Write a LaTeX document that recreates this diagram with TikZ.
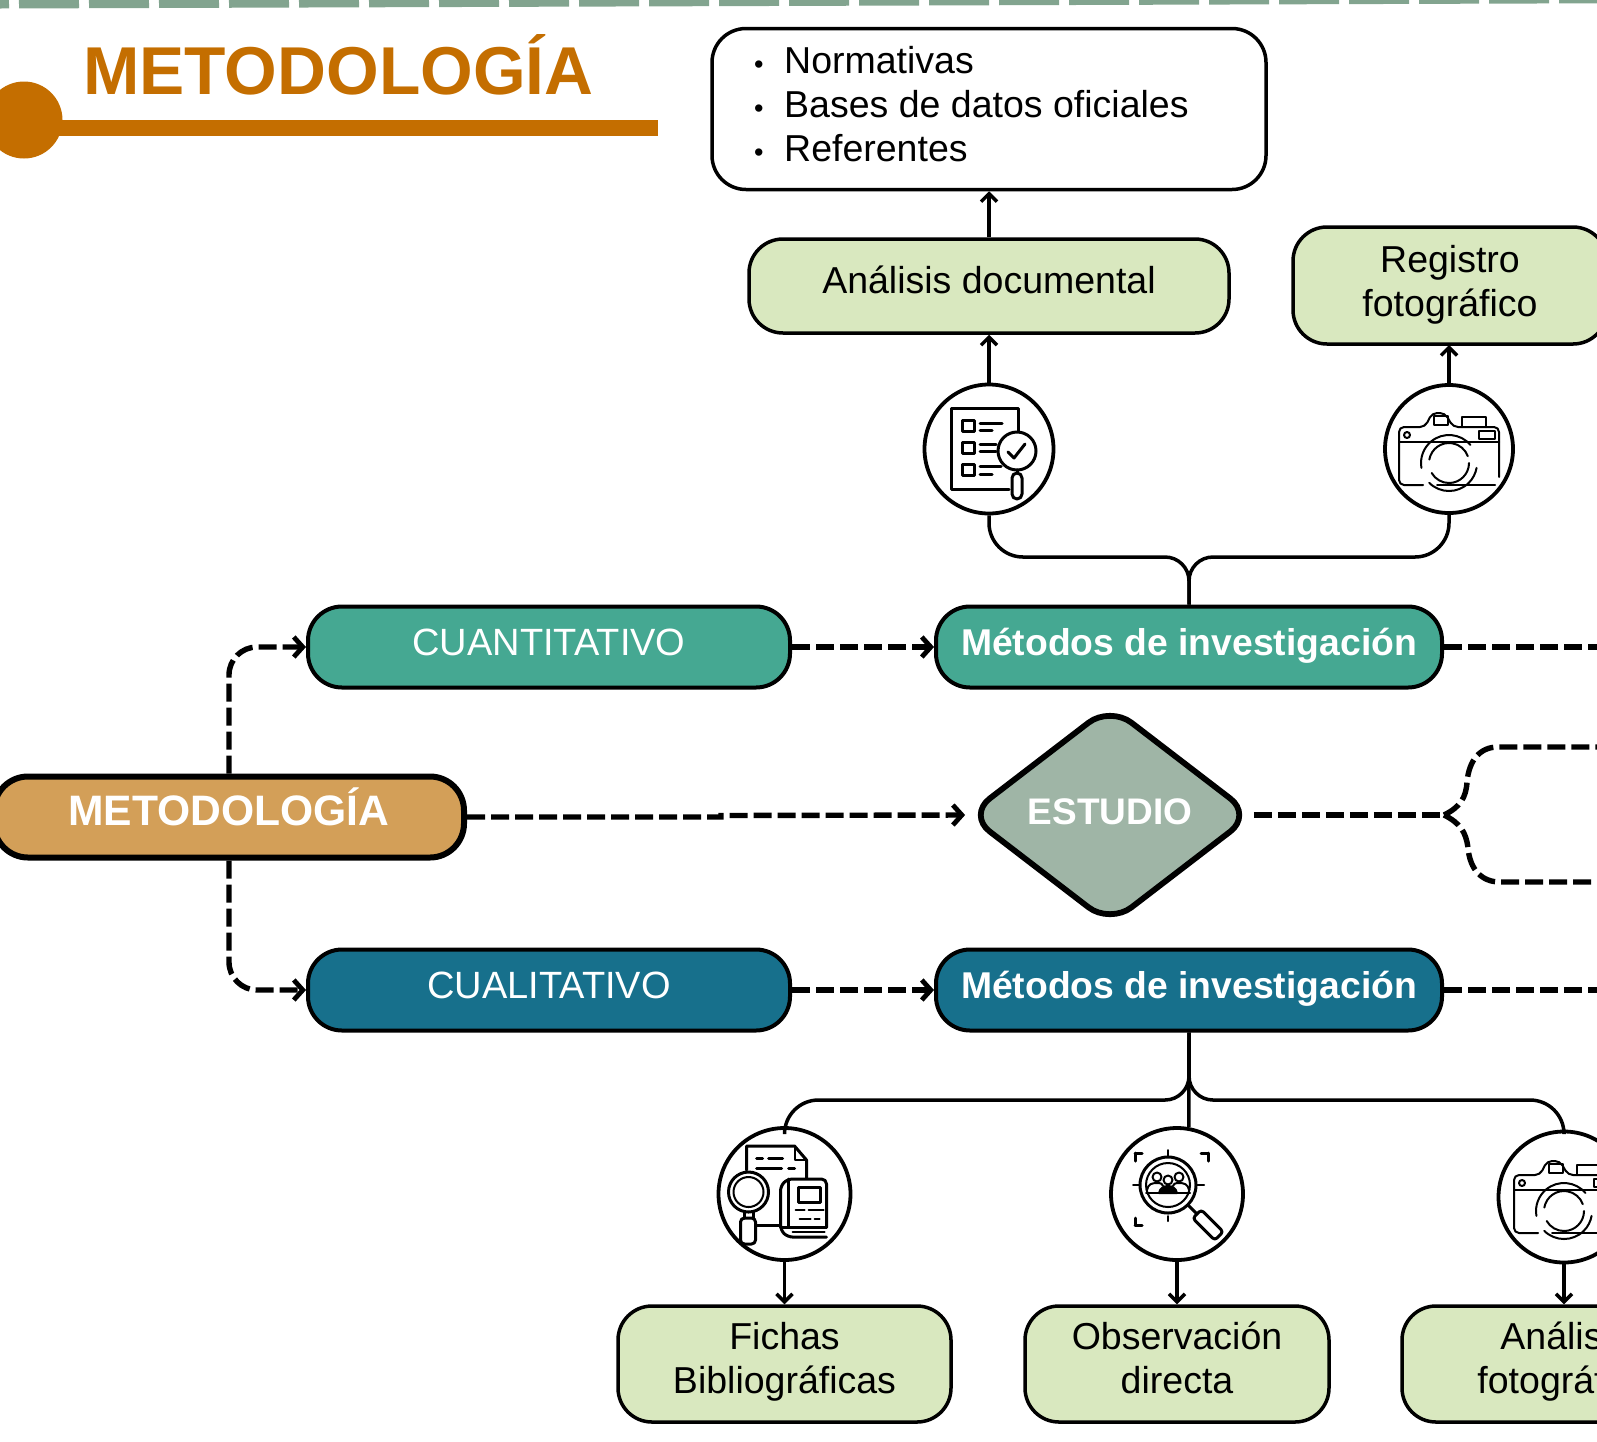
\documentclass[tikz,border=0pt]{standalone}
\usepackage{fontspec}
\setmainfont{Liberation Sans}
\usetikzlibrary{arrows.meta,shapes.geometric,calc}
\definecolor{topline}{HTML}{82A48F}
\definecolor{ochre}{HTML}{C46E00}
\definecolor{lightg}{HTML}{D9E8BF}
\definecolor{teala}{HTML}{45A892}
\definecolor{tealb}{HTML}{17708C}
\definecolor{sand}{HTML}{D39F58}
\definecolor{sage}{HTML}{9FB5A6}
\newcommand{\twolines}[2]{\rule{0pt}{26pt}#1\\#2\rule[-9pt]{0pt}{9pt}}
\newcommand{\twolinesup}[2]{\rule{0pt}{26pt}#1\\#2\rule[-13pt]{0pt}{13pt}}
\tikzset{
  lab/.style={font=\fontsize{37.5}{44}\selectfont},
  box/.style={draw=black,rounded corners=34pt,line width=3.5pt,lab,inner sep=0pt,align=center},
  lightbox/.style={box,fill=lightg,text=black},
  colbox/.style={box,line width=4pt,minimum height=81pt,minimum width=482pt,text height=26pt,text depth=9pt,text=white},
  iconring/.style={draw=black,fill=white,circle,line width=3.8pt,minimum size=131pt,inner sep=0pt},
  conn/.style={draw=black,line width=3.5pt,rounded corners=24pt},
  arr/.style={draw=black,line width=3.5pt,-{Straight Barb[length=8pt,width=16pt,line width=3.5pt]}},
  dashc/.style={draw=black,line width=5.4pt,dash pattern=on 18pt off 6pt},
  dasharr/.style={dashc,-{Straight Barb[length=9pt,width=20pt,line width=4.8pt]}},
  ic/.style={draw=black,line width=2pt,line cap=round,line join=round},
  icb/.style={draw=black,line width=3pt,line cap=round,line join=round},
}
\newcommand{\camicon}[1]{%
\begin{scope}[shift={(#1)}]
  \draw[ic] (-26,36) -- (-44,36) [rounded corners=5pt] -- (-50,36) -- (-50,-22) -- (-24,-22) -- (-17,-36) -- (-4,-36) -- (4,-22) -- (50,-22) -- (50,28);
  \draw[ic] (-12,36) -- (46,36);
  \draw[ic] (-50,-7) -- (50,-7);
  \draw[ic] (-15,-33) rectangle (-1,-24);
  \draw[ic] (13,-22) -- (13,-32) -- (37,-32) -- (37,-22);
  \draw[ic] (30,-18) rectangle (46,-10);
  \draw[ic] (-42,-14) circle[radius=3];
  % lens: arcs round (0,14), angles negative because y runs downwards
  \draw[ic] (0,14) ++(-40:28) arc[start angle=-40,end angle=-190,radius=28];
  \draw[ic] (0,14) ++(135:28) arc[start angle=135,end angle=10,radius=28];
  \draw[ic] (0,14) ++(-170:20) arc[start angle=-170,end angle=-20,radius=20];
  \draw[ic] (0,14) ++(0:20) arc[start angle=0,end angle=150,radius=20];
\end{scope}}
\begin{document}
\begin{tikzpicture}[x=1pt,y=-1pt]
\useasboundingbox (0,0) rectangle (1597,1441);
% header
\draw[topline,line width=9pt,dash pattern=on 60pt off 10pt,dash phase=51pt] (0,4) -- (1597,-1.2);
\fill[ochre] (24,120) circle[radius=38.5];
\fill[ochre] (40,120) rectangle (658,136);
\node[text=ochre,font=\fontsize{67.7}{70}\selectfont\bfseries,inner sep=0pt,anchor=base west] (title) at (83,94.5) {METODOLOGÍA};
% upper branch
\node[box,fill=white,minimum width=554pt,minimum height=161pt] (refs) at (989,109) {};
\node[lab,align=left,anchor=west,inner sep=0pt] (reflist) at (754,104) {%
\makebox[30pt][l]{\fontsize{27}{27}\selectfont•}Normativas\\
\makebox[30pt][l]{\fontsize{27}{27}\selectfont•}Bases de datos oficiales\\
\makebox[30pt][l]{\fontsize{27}{27}\selectfont•}Referentes};
\node[lightbox,minimum width=480pt,minimum height=94pt,text height=25pt,text depth=10pt] (doc) at (989,286) {Análisis documental};
\node[lightbox,minimum width=314pt,minimum height=117pt] (foto) at (1450,285.5) {\twolines{Registro}{fotográfico}};
\node[iconring,minimum size=129pt] (cA) at (989,449) {};
\node[iconring,minimum size=128pt] (cB) at (1449,449) {};
\node[colbox,fill=teala,minimum width=482pt,font=\fontsize{38}{44}\selectfont] (cuan) at (549,647) {CUANTITATIVO};
\node[colbox,fill=teala,minimum width=506pt,font=\fontsize{37.3}{44}\selectfont\bfseries] (metA) at (1189,647) {Métodos de investigación};
\draw[arr] (doc.north) -- (refs.south);
\draw[arr] (cA.north) -- (doc.south);
\draw[arr] (cB.north) -- (1449,345);
\draw[conn] (metA.north) -- (metA.north |- 0,557) [rounded corners=34pt] -| (cA.south);
\draw[conn] (metA.north) -- (metA.north |- 0,557) [rounded corners=34pt] -| (cB.south);
% middle
\node[box,line width=6pt,fill=sand,text=white,minimum width=470pt,minimum height=81pt,text height=28pt,text depth=12pt,font=\fontsize{42.6}{46}\selectfont\bfseries] (meto) at (229,817) {METODOLOGÍA};
\node[shape=diamond,draw=black,line width=5.8pt,fill=sage,rounded corners=27pt,minimum width=286pt,minimum height=220pt,inner sep=0pt,text=white,font=\fontsize{37}{44}\selectfont\bfseries] (est) at (1110,815) {\raisebox{6pt}{ESTUDIO}};
\node[colbox,fill=tealb,minimum width=482pt,font=\fontsize{38}{44}\selectfont] (cual) at (549,990) {CUALITATIVO};
\node[colbox,fill=tealb,minimum width=506pt,font=\fontsize{37.3}{44}\selectfont\bfseries] (metB) at (1189,990) {Métodos de investigación};
\coordinate (endA) at (1620,647);
\coordinate (endB) at (1620,990);
\coordinate (endC) at (1620,747);
\coordinate (endD) at (1620,882);
\coordinate (fork) at (1444,815);
\draw[dasharr,rounded corners=28pt] (meto.north) |- (cuan.west);
\draw[dasharr,rounded corners=28pt] (meto.south) |- (cual.west);
\draw[dasharr] (cuan.east) -- (metA.west);
\draw[dasharr] (cual.east) -- (metB.west);
\draw[dashc] (metA.east) -- (endA);
\draw[dashc] (metB.east) -- (endB);
\draw[dasharr,shorten >=-1pt] (meto.east) -- ++(254,0) -- ++(0,-1.5) -- (est.west);
\draw[dashc,shorten <=-2pt] (est.east) -- (fork);
\draw[dashc] (fork) .. controls (1460,807) and (1466,798) .. (1467,782) .. controls (1469,760) and (1480,747) .. (1498,747) -- (endC);
\draw[dashc] (fork) .. controls (1460,823) and (1466,832) .. (1468,848) .. controls (1470,870) and (1482,882) .. (1500,882) -- (endD);
% lower
\node[iconring,minimum size=132pt] (cC) at (784.5,1194) {};
\node[iconring,minimum size=132pt] (cD) at (1177,1194) {};
\node[iconring] (cE) at (1564,1197) {};
\node[lightbox,minimum width=333pt,minimum height=116pt] (fichas) at (784.5,1364) {\twolinesup{Fichas}{Bibliográficas}};
\node[lightbox,minimum width=304pt,minimum height=116pt] (obs) at (1177,1364) {\twolinesup{Observación}{directa}};
\node[lightbox,minimum width=326pt,minimum height=116pt] (ana) at (1565,1364) {\twolinesup{Análisis}{fotográfico}};
\draw[conn] (metB.south) -- (metB.south |- 0,1100) [rounded corners=34pt] -| (cC.north);
\draw[conn] (metB.south) -- (metB.south |- 0,1100) [rounded corners=34pt] -| (cE.north);
\draw[conn] (metB.south) -- (cD.80);
\draw[arr] (cC.south) -- (fichas.north);
\draw[arr] (cD.south) -- (obs.north);
\draw[arr] (cE.south) -- (cE.south |- ana.north);
% checklist icon
\begin{scope}[shift={(cA.center)}]
  \draw[icb] (29,-12) -- (29,-41) -- (-38,-41) -- (-38,40) -- (20,40);
  \draw[icb] (-27,-29) rectangle (-15,-18);
  \draw[icb] (-27,-7) rectangle (-15,4);
  \draw[icb] (-27,15) rectangle (-15,26);
  \draw[icb] (-9,-26) -- (13,-26);
  \draw[icb] (-9,-19) -- (3,-19);
  \draw[icb] (-9,-5) -- (7,-5);
  \draw[icb] (-9,2) -- (7,2);
  \draw[icb] (-9,17) -- (12,17);
  \draw[icb] (-9,25) -- (3,25);
  \draw[icb,fill=white] (28,2) circle[radius=19];
  \draw[icb] (19,3) -- (25,9) -- (36,-5);
  \draw[icb] (28,21) -- (28,24);
  \draw[icb,rounded corners=5pt] (23,24) rectangle (33,50);
\end{scope}
\camicon{cB.center}
% books icon
\begin{scope}[shift={(cC.center)}]
  \draw[icb] (-38,-24) -- (-38,-48) -- (10,-48) -- (22,-34) -- (22,-16);
  \draw[ic] (10,-48) -- (10,-34) -- (22,-34);
  \draw[icb] (-28,-36) -- (-22,-36);
  \draw[icb] (-16,-36) -- (-2,-36);
  \draw[icb] (-28,-26) -- (-3,-26);
  \draw[icb] (4,-26) -- (10,-26);
  \draw[icb,fill=white] (-36,-2) circle[radius=20];
  \draw[ic] (-36,-2) circle[radius=15];
  \draw[icb] (-40,18) -- (-40,24);
  \draw[icb] (-31,18) -- (-31,24);
  \draw[icb,rounded corners=4pt] (-44,24) rectangle (-29,50);
  \draw[icb] (-28,31) -- (-4,31);
  \draw[icb,rounded corners=5pt] (42,33) -- (42,-15) -- (3,-15) -- (-4,-8) -- (-4,36) -- (3,43) -- (42,43);
  \draw[icb] (4,-15) -- (4,33);
  \draw[icb] (-4,33) -- (42,33);
  \draw[ic] (8,38) -- (40,38);
  \draw[icb] (14,-7) rectangle (36,8);
  \draw[ic] (11,16) -- (20,16);
  \draw[ic] (24,16) -- (39,16);
  \draw[ic] (15,25) -- (26,25);
  \draw[ic] (30,25) -- (35,25);
\end{scope}
% focus icon
\begin{scope}[shift={(cD.center)}]
  \draw[icb] (-9,-9) circle[radius=28];
  \draw[ic] (-9,-9) circle[radius=22];
  \draw[icb] (-42,-41) -- (-42,-33);
  \draw[icb] (-42,-41) -- (-35,-41);
  \draw[icb] (31,-41) -- (24,-41);
  \draw[icb] (31,-41) -- (31,-33);
  \draw[icb] (-42,31) -- (-42,24);
  \draw[icb] (-42,31) -- (-35,31);
  \draw[ic] (-9,-44) -- (-9,-38);
  \draw[ic] (-9,22) -- (-9,27);
  \draw[ic] (-44,-9) -- (-38,-9);
  \draw[ic] (20,-9) -- (27,-9);
  \draw[ic] (-20,-17) circle[radius=4.5];
  \draw[ic] (-9,-14) circle[radius=4.5];
  \draw[ic] (2,-17) circle[radius=4.5];
  \draw[ic] (-30,-4) .. controls (-29,-10) and (-25,-11) .. (-20,-11) .. controls (-16,-11) and (-14,-10) .. (-14,-8);
  \draw[ic] (12,-4) .. controls (11,-10) and (7,-11) .. (2,-11) .. controls (-2,-11) and (-4,-10) .. (-4,-8);
  \draw[ic,fill=black] (-18,-1) .. controls (-17,-6) and (-13,-8) .. (-9,-8) .. controls (-5,-8) and (-1,-6) .. (0,-1) -- cycle;
  \draw[ic] (-31,-1) -- (13,-1);
  \draw[icb] (11,11) -- (20,20);
  \draw[icb,rounded corners=3pt] (24.2,15.8) -- (46.2,37.8) -- (37.8,46.2) -- (15.8,24.2) -- cycle;
\end{scope}
\camicon{cE.center}
\end{tikzpicture}
\end{document}
